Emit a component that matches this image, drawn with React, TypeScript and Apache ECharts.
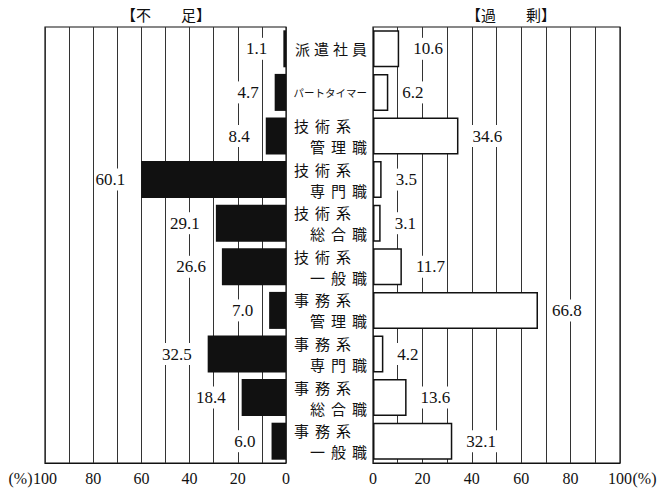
import React, { useEffect, useRef } from "react";
import * as echarts from "echarts";

const categories = [
  "派遣社員",
  "パートタイマー",
  "技術系\n管理職",
  "技術系\n専門職",
  "技術系\n総合職",
  "技術系\n一般職",
  "事務系\n管理職",
  "事務系\n専門職",
  "事務系\n総合職",
  "事務系\n一般職",
];
const shortage = [1.1, 4.7, 8.4, 60.1, 29.1, 26.6, 7.0, 32.5, 18.4, 6.0];
const surplus = [10.6, 6.2, 34.6, 3.5, 3.1, 11.7, 66.8, 4.2, 13.6, 32.1];
const shortageTitle = "【不　　足】";
const surplusTitle = "【過　　剰】";
const unitLabel = "(%)";

const JP = '"Noto Sans CJK JP", sans-serif';
const NUM = '"Liberation Serif", "DejaVu Serif", serif';

export default function App() {
  const ref = useRef<HTMLDivElement>(null);
  useEffect(() => {
    if (!ref.current) return;
    const chart = echarts.init(ref.current, null, { renderer: "svg" });

    const catFormatter = (value: string) => {
      const lines = value.split("\n");
      if (lines.length === 2) {
        const l1 = lines[0].split("").map((c) => `{a|${c}}`).join("") + "{g| }";
        const l2 = lines[1].split("").map((c) => `{a|${c}}`).join("");
        return l1 + "\n" + l2;
      }
      if (value.length > 4) return `{s|${value}}`;
      return value.split("").map((c) => `{c|${c}}`).join("");
    };

    const splitLine = {
      show: true,
      lineStyle: { color: "#333", width: 1 },
    };

    const valueLabelStyle = {
      fontFamily: NUM,
      fontSize: 17,
      color: "#111",
      backgroundColor: "#fff",
      padding: [3, 1, 2, 1],
    };

    const axisNum = { fontFamily: NUM, fontSize: 16, color: "#111" };

    chart.setOption({
      animation: false,
      backgroundColor: "#fff",
      title: [
        {
          text: shortageTitle,
          left: 161,
          top: 2,
          textAlign: "center",
          textStyle: { fontFamily: JP, fontSize: 15, fontWeight: "normal", color: "#111" },
        },
        {
          text: surplusTitle,
          left: 506,
          top: 2,
          textAlign: "center",
          textStyle: { fontFamily: JP, fontSize: 15, fontWeight: "normal", color: "#111" },
        },
      ],
      grid: [
        { left: 45, top: 27, width: 241, height: 436, show: true, borderColor: "#111", borderWidth: 1.2 },
        { left: 373, top: 27, width: 247, height: 436, show: true, borderColor: "#111", borderWidth: 1.2 },
      ],
      xAxis: [
        {
          type: "value",
          gridIndex: 0,
          inverse: true,
          min: 0,
          max: 100,
          interval: 10,
          axisLine: { show: true, lineStyle: { color: "#111" } },
          axisTick: { show: false },
          splitLine,
          axisLabel: {
            ...axisNum,
            margin: 7,
            formatter: (v: number) => {
              if (v % 20 !== 0) return "";
              if (v === 100) return `{p|${unitLabel}}{v|${v}}{sp| }`;
              return `${v}`;
            },
            rich: {
              p: { ...axisNum, width: 25, align: "center" },
              v: { ...axisNum },
              sp: { ...axisNum, width: 25 },
            },
          },
        },
        {
          type: "value",
          gridIndex: 1,
          min: 0,
          max: 100,
          interval: 10,
          axisLine: { show: true, lineStyle: { color: "#111" } },
          axisTick: { show: false },
          splitLine,
          axisLabel: {
            ...axisNum,
            margin: 7,
            formatter: (v: number) => {
              if (v % 20 !== 0) return "";
              if (v === 100) return `{sp| }{v|${v}}{p|${unitLabel}}`;
              return `${v}`;
            },
            rich: {
              p: { ...axisNum, width: 25, align: "center" },
              v: { ...axisNum },
              sp: { ...axisNum, width: 25 },
            },
          },
        },
      ],
      yAxis: [
        {
          type: "category",
          gridIndex: 0,
          data: categories,
          inverse: true,
          axisLine: { show: false },
          axisTick: { show: false },
          axisLabel: { show: false },
          splitLine: { show: false },
        },
        {
          type: "category",
          gridIndex: 1,
          data: categories,
          inverse: true,
          axisLine: { show: false },
          axisTick: { show: false },
          splitLine: { show: false },
          axisLabel: {
            margin: 6,
            align: "right",
            formatter: catFormatter,
            rich: {
              a: { fontFamily: JP, fontSize: 15, width: 21, lineHeight: 21, color: "#111" },
              g: { fontFamily: JP, fontSize: 15, width: 16, lineHeight: 21 },
              c: { fontFamily: JP, fontSize: 15, width: 19, lineHeight: 21, color: "#111" },
              s: { fontFamily: JP, fontSize: 10.5, lineHeight: 21, color: "#111" },
            },
          },
        },
      ],
      series: [
        {
          type: "bar",
          xAxisIndex: 0,
          yAxisIndex: 0,
          data: shortage,
          barWidth: 37,
          itemStyle: { color: "#111" },
          label: {
            show: true,
            position: "left",
            distance: 15,
            ...valueLabelStyle,
            formatter: (p: any) => Number(p.value).toFixed(1),
          },
        },
        {
          type: "bar",
          xAxisIndex: 1,
          yAxisIndex: 1,
          data: surplus,
          barWidth: 37,
          itemStyle: { color: "#fff", borderColor: "#111", borderWidth: 1.5 },
          label: {
            show: true,
            position: "right",
            distance: 13,
            ...valueLabelStyle,
            formatter: (p: any) => Number(p.value).toFixed(1),
          },
        },
      ],
    });
    return () => chart.dispose();
  }, []);
  return (
    <div
      ref={ref}
      style={{ position: "fixed", left: 0, top: 0, width: 664, height: 495, background: "#fff" }}
    />
  );
}
